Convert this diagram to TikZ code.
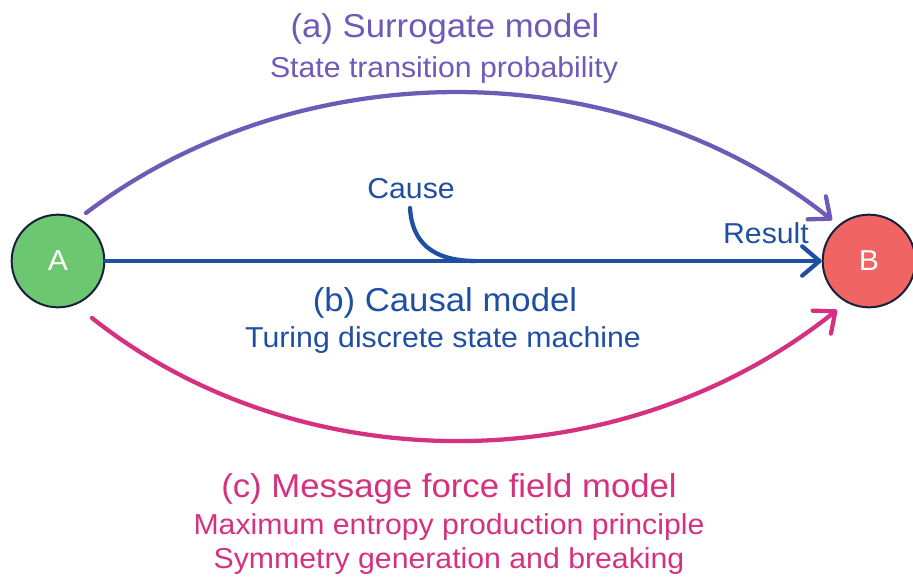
\documentclass[tikz,border=0pt]{standalone}
\usepackage{fontspec}
\setmainfont[FakeStretch=1.05]{Liberation Sans}
\usetikzlibrary{arrows.meta}
\definecolor{cgreen}{HTML}{6CC770}
\definecolor{cred}{HTML}{F06464}
\definecolor{cnavy}{HTML}{16213A}
\definecolor{cblue}{HTML}{1F4FA3}
\definecolor{cpurple}{HTML}{6E5BB8}
\definecolor{cpink}{HTML}{D6317F}
\tikzset{
  state/.style={circle, draw=cnavy, line width=1.5pt, minimum size=69.5pt, inner sep=0pt,
    text=white, font=\fontsize{21.6}{24}\selectfont},
  big/.style={anchor=base, inner sep=0pt, font=\fontsize{24.8}{28}\selectfont},
  small/.style={anchor=base, inner sep=0pt, font=\fontsize{21.6}{24}\selectfont},
  tip/.style={-{Straight Barb[length=13pt,width=22pt,line cap=round,line join=round]}},
  conn/.style={line width=3.2pt, line cap=round},
}
\begin{document}
\begin{tikzpicture}[x=0.75pt,y=-0.75pt]
\path[use as bounding box] (0,0) rectangle (913,578);
% states
\node[state, fill=cgreen] (A) at (58,261) {A};
\node[state, fill=cred] (B) at (869,261) {B};
% free ends of curved connectors
\coordinate (pa0) at (86,213);
\coordinate (pa1) at (832,220);
\coordinate (pc0) at (92,318);
\coordinate (pc1) at (837,310);
\coordinate (cs0) at (410,208);
\coordinate (cs1) at (476,261);
% connectors
\draw[conn, cpurple, tip] (pa0) .. controls (300,51) and (620,51) .. (pa1);
\draw[conn, cblue, tip] (A) -- (B);
\draw[conn, cblue] (cs0) .. controls (412,242) and (432,261) .. (cs1);
\draw[conn, cpink, tip] (pc0) .. controls (300,483) and (620,483) .. (pc1);
% labels
\node[big, text=cpurple] (ta) at (445,37) {(a) Surrogate model};
\node[small, text=cpurple] (sa) at (444,77) {State transition probability};
\node[small, text=cblue] (cause) at (411,198) {Cause};
\node[small, text=cblue] (result) at (766,243) {Result};
\node[big, text=cblue] (tb) at (445,311) {(b) Causal model};
\node[small, text=cblue] (sb) at (443,347) {Turing discrete state machine};
\node[big, text=cpink] (tc) at (449,497) {(c) Message force field model};
\node[small, text=cpink] (sc1) at (449,534) {Maximum entropy production principle};
\node[small, text=cpink] (sc2) at (449,568) {Symmetry generation and breaking};
\end{tikzpicture}
\end{document}
